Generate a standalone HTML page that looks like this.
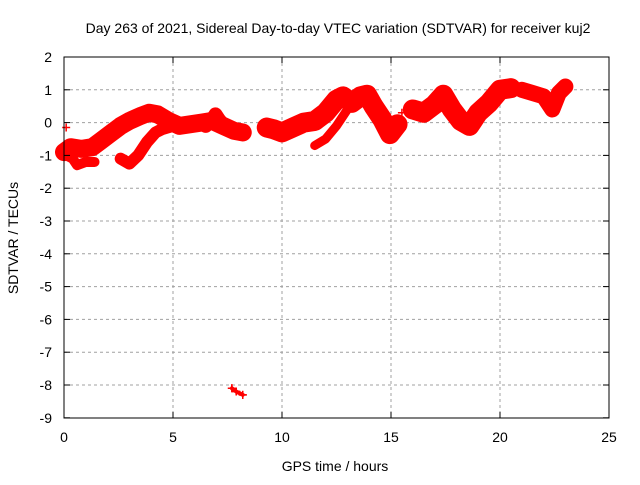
<!DOCTYPE html>
<html><head><meta charset="utf-8"><style>
body{margin:0;background:#fff;width:640px;height:480px;overflow:hidden}
svg{font-family:"Liberation Sans",sans-serif;font-size:14px}
</style></head><body>
<svg id="chart" width="640" height="480" xmlns="http://www.w3.org/2000/svg">
<text x="338" y="33" text-anchor="middle">Day 263 of 2021, Sidereal Day-to-day VTEC variation (SDTVAR) for receiver kuj2</text>
<text x="335" y="471" text-anchor="middle">GPS time / hours</text>
<text transform="translate(18,238) rotate(-90)" text-anchor="middle">SDTVAR / TECUs</text>
<g id="grid"></g>
<g id="marks"></g>
<rect x="64" y="57" width="545" height="361" fill="none" stroke="#000" stroke-width="1"/>
<g id="ticks"></g>
</svg>
<script>
const xTicks=[0,5,10,15,20,25];
const yTicks=[2,1,0,-1,-2,-3,-4,-5,-6,-7,-8,-9];
const mainX=[0,0.3,0.8,1.3,1.7,2.1,2.6,3.0,3.5,3.9,4.3,4.8,5.3,5.8,6.3,6.8,7.3,7.8,8.2];
const mainY=[-0.9,-0.75,-0.8,-0.75,-0.55,-0.35,-0.1,0.05,0.2,0.3,0.25,0.05,-0.1,-0.05,0,0.05,-0.1,-0.25,-0.3];
const dipX=[0.1,0.4,0.6,1.0,1.4];
const dipY=[-1.0,-1.1,-1.3,-1.2,-1.2];
const lowX=[2.6,3.0,3.4,3.8,4.2,4.5,5.0];
const lowY=[-1.1,-1.25,-1.0,-0.6,-0.3,-0.2,-0.1];
const spikeX=[6.5,6.8,6.95,7.1,7.4];
const spikeY=[-0.1,0.1,0.25,0.1,-0.15];
const midX=[9.3,9.6,10,10.5,11,11.5,12,12.5,12.8,13.2,13.6,13.9,14.2,14.6,14.95,15.3];
const midY=[-0.15,-0.2,-0.3,-0.15,0,0.05,0.3,0.7,0.8,0.6,0.8,0.85,0.5,0.1,-0.35,-0.05];
const mid2X=[11.5,12,12.5,13];
const mid2Y=[-0.7,-0.5,-0.1,0.4];
const lateX=[16,16.5,17,17.4,17.8,18.2,18.6,19,19.5,20,20.5];
const lateY=[0.4,0.3,0.55,0.85,0.4,0.05,-0.1,0.3,0.6,1.0,1.05];
const endX=[21,21.5,22,22.4,22.7,23];
const endY=[1.0,0.9,0.8,0.4,0.9,1.1];
const outX=[7.7,7.9,8.2,0.1,15.5,15.5];
const outY=[-8.1,-8.2,-8.3,-0.15,0.3,-0.2];
const NS="http://www.w3.org/2000/svg";
const sx=v=>64+v*21.8, sy=v=>122.6-v*32.8;
const grid=document.getElementById('grid'),ticks=document.getElementById('ticks'),marks=document.getElementById('marks');
function el(t,a,p){const e=document.createElementNS(NS,t);for(const k in a)e.setAttribute(k,a[k]);p.appendChild(e);return e;}
xTicks.forEach(v=>{
 if(v>0&&v<25){const g=el('line',{x1:sx(v),x2:sx(v),y1:57,y2:418,stroke:'#a0a0a0','stroke-dasharray':'3,3'},grid);
 
 }
 const t=el('line',{x1:sx(v),x2:sx(v),y1:418,y2:412,stroke:'#000'},ticks);
 
 
 const t2=el('line',{x1:sx(v),x2:sx(v),y1:57,y2:63,stroke:'#000'},ticks);
 
 
 const l=el('text',{x:sx(v),y:442,'text-anchor':'middle'},ticks);l.textContent=v;
 
 
});
yTicks.forEach(v=>{
 if(v<2&&v>-9){const g=el('line',{x1:64,x2:609,y1:sy(v),y2:sy(v),stroke:'#a0a0a0','stroke-dasharray':'3,3'},grid);
 
 }
 const t=el('line',{x1:64,x2:70,y1:sy(v),y2:sy(v),stroke:'#000'},ticks);
 
 
 const t2=el('line',{x1:603,x2:609,y1:sy(v),y2:sy(v),stroke:'#000'},ticks);
 
 
 const l=el('text',{x:52,y:sy(v)+5,'text-anchor':'end'},ticks);l.textContent=v;
 
 
});
function band(xs,ys,w,name){
 const p=el('polyline',{points:xs.map((x,i)=>sx(x)+','+sy(ys[i])).join(' '),fill:'none',stroke:'#f00','stroke-width':w,'stroke-linejoin':'round','stroke-linecap':'round'},marks);
 
 
 xs.forEach((x,i)=>plus(x,ys[i]));
}
function plus(x,y){
 const m=el('path',{d:`M${sx(x)-4},${sy(y)}h8M${sx(x)},${sy(y)-4}v8`,stroke:'#f00','stroke-width':1.5},marks);
 
 
}
band(mainX,mainY,18,'main-trace');
band(dipX,dipY,10,'dip-trace');
band(lowX,lowY,12,'lower-trace');
band(spikeX,spikeY,14,'spike-trace');
band(midX,midY,20,'mid-trace');
band(mid2X,mid2Y,9,'mid-lower-trace');
band(lateX,lateY,20,'late-trace');
band(endX,endY,16,'end-trace');
outX.forEach((x,i)=>{plus(x,outY[i]);});
band(outX.slice(0,3),outY.slice(0,3),4,'outlier-trace');
</script>
</body></html>
